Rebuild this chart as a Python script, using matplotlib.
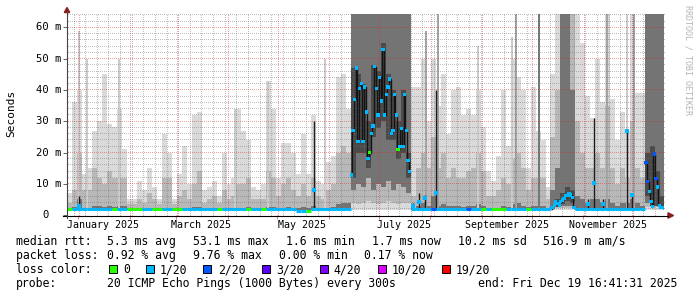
import numpy as np
import pandas as pd
import matplotlib
matplotlib.use("Agg")
import matplotlib.pyplot as plt
import matplotlib.dates as mdates
import matplotlib.ticker as mticker
import matplotlib.transforms as mtrans
from matplotlib.lines import Line2D
from matplotlib.patches import Rectangle, Polygon

# ---------------------------------------------------------------- data
axis_start = "2024-12-25 09:00"
axis_end = "2025-12-19 16:41:31"
bin_days = 3          # smoke is summarised in 3-day bins
min_rtt = 1.6         # ms, lowest ping (bottom of the smoke)

# smoke envelope per 3-day bin (ms): max ping, ~90th, ~75th percentile
smoke_max = [7, 36, 40, 13, 15, 27, 30, 45, 29, 28,
             34, 21, 5, 5, 11, 8, 15, 9, 5, 26,
             20, 5, 13, 22, 10, 32, 33, 8, 9, 11,
             6, 20, 10, 12, 34, 27, 24, 9, 8, 10,
             43, 34, 12, 23, 23, 20, 13, 26, 13, 32,
             11, 10, 17, 19, 44, 45, 34, 70, 70, 70,
             70, 70, 70, 70, 70, 70, 70, 70, 70, 41,
             41, 50, 30, 50, 35, 45, 26, 40, 41, 32,
             34, 32, 40, 28, 14, 11, 19, 40, 22, 50,
             44, 40, 15, 41, 27, 24, 9, 45, 70, 70,
             70, 70, 70, 55, 38, 31, 50, 36, 70, 37,
             24, 33, 27, 70, 39, 39, 70, 70, 70, 70]
smoke_p90 = [4, 8, 20, 8, 8, 15, 12, 10, 14, 12,
             12, 12, 3.5, 3.5, 5, 4, 7, 5, 3.5, 12,
             12, 3.5, 6, 8, 5, 10, 14, 4, 5, 6,
             4, 8, 5, 6, 10, 10, 12, 5, 5, 5,
             14, 12, 6, 10, 12, 8, 6, 10, 6, 12,
             6, 5, 8, 10, 20, 22, 20, 70, 70, 70,
             70, 70, 70, 70, 70, 70, 70, 70, 70, 6,
             15, 20, 15, 25, 15, 20, 12, 15, 12, 12,
             14, 15, 20, 14, 6, 6, 8, 12, 10, 18,
             20, 15, 8, 12, 12, 12, 5, 25, 40, 70,
             70, 70, 30, 20, 15, 15, 20, 15, 35, 15,
             10, 15, 12, 30, 15, 12, 70, 70, 70, 70]
smoke_p75 = [2.3, 2.6, 5, 2.4, 2.4, 3, 3, 2.6, 3, 2.6,
             3, 3, 2.2, 2.2, 2.3, 2.2, 2.3, 2.2, 2.2, 2.4,
             2.4, 2.2, 2.3, 2.4, 2.3, 2.6, 2.6, 2.2, 2.3, 2.3,
             2.2, 2.4, 2.3, 2.3, 2.4, 2.4, 2.6, 2.3, 2.3, 2.3,
             2.6, 2.6, 2.3, 2.4, 2.6, 2.4, 2.3, 2.6, 2.3, 3,
             2.3, 2.3, 2.4, 2.6, 3.5, 4, 4, 70, 70, 70,
             70, 70, 70, 70, 70, 70, 70, 70, 70, 2.4,
             3, 4, 3, 6, 3, 3.5, 3, 3, 3, 2.6,
             3, 3, 3.5, 3, 2.4, 2.4, 2.4, 3, 2.6, 3.5,
             4, 3, 2.6, 3, 3, 3, 2.4, 8, 15, 70,
             70, 40, 6, 5, 4, 5, 5, 4, 5, 4,
             3, 4, 4, 5, 4, 3, 70, 70, 70, 70]
# lower edges of the two inner smoke bands (ms)
smoke_lo10 = [1.6, 1.6, 1.6, 1.6, 1.6, 1.6, 1.6, 1.6, 1.6, 1.6,
              1.6, 1.6, 1.6, 1.6, 1.6, 1.6, 1.6, 1.6, 1.6, 1.6,
              1.6, 1.6, 1.6, 1.6, 1.6, 1.6, 1.6, 1.6, 1.6, 1.6,
              1.6, 1.6, 1.6, 1.6, 1.6, 1.6, 1.6, 1.6, 1.6, 1.6,
              1.6, 1.6, 1.6, 1.6, 1.6, 1.6, 1.6, 1.6, 1.6, 1.6,
              1.6, 1.6, 1.6, 1.6, 1.6, 1.6, 1.6, 4, 3.5, 4,
              4.5, 4, 3.5, 4, 4.5, 4, 3.5, 4, 4, 1.6,
              1.6, 1.6, 1.6, 1.6, 1.6, 1.6, 1.6, 1.6, 1.6, 1.6,
              1.6, 1.6, 1.6, 1.6, 1.6, 1.6, 1.6, 1.6, 1.6, 1.6,
              1.6, 1.6, 1.6, 1.6, 1.6, 1.6, 1.6, 1.6, 2.2, 2.2,
              2.2, 2.2, 1.6, 1.6, 1.6, 1.6, 1.6, 1.6, 1.6, 1.6,
              1.6, 1.6, 1.6, 1.6, 1.6, 1.6, 2.5, 2.5, 2.5, 2.5]
smoke_lo25 = [1.7, 1.7, 1.7, 1.7, 1.7, 1.7, 1.7, 1.7, 1.7, 1.7,
              1.7, 1.7, 1.7, 1.7, 1.7, 1.7, 1.7, 1.7, 1.7, 1.7,
              1.7, 1.7, 1.7, 1.7, 1.7, 1.7, 1.7, 1.7, 1.7, 1.7,
              1.7, 1.7, 1.7, 1.7, 1.7, 1.7, 1.7, 1.7, 1.7, 1.7,
              1.7, 1.7, 1.7, 1.7, 1.7, 1.7, 1.7, 1.7, 1.7, 1.7,
              1.7, 1.7, 1.7, 1.7, 1.7, 1.7, 1.7, 8, 10, 9,
              12, 8, 10, 9, 11, 8, 10, 9, 7, 1.7,
              1.7, 1.7, 1.7, 1.7, 1.7, 1.7, 1.7, 1.7, 1.7, 1.7,
              1.7, 1.7, 1.7, 1.7, 1.7, 1.7, 1.7, 1.7, 1.7, 1.7,
              1.7, 1.7, 1.7, 1.7, 1.7, 1.7, 1.7, 2.0, 3, 3,
              3, 3, 1.7, 1.7, 1.7, 1.7, 1.7, 1.7, 1.7, 1.7,
              1.7, 1.7, 1.7, 1.7, 1.7, 1.7, 4, 4, 4, 4]

nan = float("nan")
# densest smoke core (ms) in the congested bins
core_bins = [57, 58, 59, 60, 61, 62, 63, 64, 65, 66, 67, 68,
             98, 99, 100, 101, 116, 117, 118, 119]
core_lo = [12, 20, 20, 15, 25, 28, 30, 24, 24, 18, 20, 12,
           2.5, 3.5, 4.5, 4, 6, 3, 3, 2]
core_hi = [47, 45, 42, 30, 48, 46, 55, 45, 40, 30, 40, 20,
           5, 7, 9, 8, 20, 22, 14, 6]

# median rtt per 3-day bin (ms) where it stays near the floor
median_base = [1.8, 1.8, 1.8, 1.8, 1.8, 1.8, 1.8, 1.8, 1.8, 1.8,
               1.8, 1.8, 1.8, 1.8, 1.8, 1.8, 1.8, 1.8, 1.8, 1.8,
               1.8, 1.8, 1.8, 1.8, 1.8, 1.8, 1.8, 1.8, 1.8, 1.8,
               1.8, 1.8, 1.8, 1.8, 1.8, 1.8, 1.8, 1.8, 1.8, 1.8,
               1.8, 1.8, 1.8, 1.8, 1.8, 1.8, 1.2, 1.2, 1.2, 1.8,
               1.8, 1.8, 1.8, 1.8, 1.8, 1.8, 1.8, nan, nan, nan,
               nan, nan, nan, nan, nan, nan, nan, nan, nan, 1.8,
               1.8, 1.8, 1.8, 1.8, 1.8, 1.8, 1.8, 1.8, 1.8, 1.8,
               1.8, 1.8, 1.8, 1.8, 1.8, 1.8, 1.8, 1.8, 1.8, 1.8,
               1.8, 1.8, 1.8, 1.8, 1.8, 1.8, 1.8, nan, nan, nan,
               nan, nan, 1.8, 1.8, 1.8, 1.8, 1.8, 1.8, 1.8, 1.8,
               1.8, 1.8, 1.8, 1.8, 1.8, 1.8, nan, nan, nan, nan]
# loss bucket per bin: 0 = 0, 1 = 1/20, 2 = 2/20 ...
median_base_loss = [0, 1, 1, 1, 1, 1, 1, 1, 1, 0,
                    1, 1, 0, 0, 0, 1, 1, 0, 0, 1,
                    1, 0, 0, 1, 1, 1, 1, 1, 1, 1,
                    0, 1, 1, 1, 1, 1, 0, 1, 1, 0,
                    1, 1, 1, 1, 1, 1, 1, 1, 0, 1,
                    1, 1, 1, 1, 1, 1, 1, 1, 1, 1,
                    1, 1, 1, 1, 1, 1, 1, 1, 1, 1,
                    1, 1, 1, 2, 1, 1, 1, 1, 1, 1,
                    2, 1, 1, 0, 1, 0, 0, 0, 1, 1,
                    1, 1, 0, 1, 1, 1, 1, 1, 1, 1,
                    1, 1, 1, 1, 1, 1, 1, 1, 1, 1,
                    1, 1, 1, 1, 1, 1, 1, 1, 1, 1]

# daily medians in the congested periods (ms) and their loss bucket
june_start = "2025-06-14 02:00"
june_median = [12.8, 27, 37, 47, 23.5, 40.5, 42, 23.5, 41, 33,
               18, 20, 26, 28.5, 47.5, 40.5, 32, 44, 36.5, 53,
               32, 38.6, 41, 43.5, 26, 27, 38.6, 32, 21, 22,
               27.7, 22, 38.6, 27, 17.4, 13.9]
june_loss = [1, 1, 1, 1, 1, 1, 1, 1, 1, 1,
             1, 0, 1, 1, 1, 1, 1, 1, 1, 1,
             1, 1, 1, 1, 1, 1, 1, 1, 0, 1,
             1, 1, 1, 1, 1, 1]
oct_start = "2025-10-12 02:00"
oct_median = [2.0, 2.5, 3.2, 4.3, 3.7, 3.2, 4.3, 4.8, 5.3, 6.2, 6.2, 6.9, 6.4, 5.5, 2.5]
oct_loss = [1, 1, 1, 1, 1, 1, 1, 1, 1, 1, 1, 1, 1, 1, 1]
dec_start = "2025-12-08 09:00"
dec_median = [16.7, 10.7, 7.5, 4.3, 2.7, 19.5, 11.7, 9.0, 3.0, 2.5, 2.5, 2.2]
dec_loss = [2, 2, 1, 1, 1, 2, 2, 1, 1, 1, 1, 1]

# isolated raised medians: date, median (ms), dense-smoke top (ms)
dot_dates = ["2025-01-01 12:00", "2025-05-22 23:00", "2025-07-21 14:00",
             "2025-07-25 04:00", "2025-07-29 02:00", "2025-08-04 11:00",
             "2025-11-03 21:00", "2025-11-07 12:00", "2025-11-12 23:00",
             "2025-11-27 09:00", "2025-11-30 14:00"]
dot_median = [3.0, 8.0, 3.0, 4.3, 5.3, 6.9, 3.4, 10.3, 3.6, 26.8, 6.4]
dot_core = [6, 30, 4, 7, 6.4, 40, 5, 31, 5, 27, 6.4]

# single tall ping outliers: date, top (ms), density level (0 light .. 2 dense)
spike_dates = ["2025-01-01 14:00", "2025-01-06 12:00", "2025-01-25 12:00",
               "2025-04-05 12:00", "2025-04-25 12:00", "2025-05-29 12:00",
               "2025-07-29 12:00", "2025-08-05 12:00", "2025-08-29 12:00",
               "2025-09-19 12:00", "2025-09-21 12:00", "2025-10-05 12:00",
               "2025-11-15 12:00", "2025-11-27 12:00", "2025-12-01 12:00"]
spike_top = [59, 50, 50, 34, 43, 50, 59, 70, 54, 57, 70, 70, 70, 70, 70]
spike_level = [0, 0, 0, 0, 0, 0, 1, 1, 0, 0, 1, 2, 1, 0, 1]

loss_labels = ["0", "1/20", "2/20", "3/20", "4/20", "10/20", "19/20"]
loss_colors = ["#26ff00", "#00b8ff", "#0059ff", "#5e00ff", "#7e00ff", "#dd00ff", "#ff0000"]

month_labels = ["January 2025", "March 2025", "May 2025", "July 2025",
                "September 2025", "November 2025"]
month_numbers = [1, 3, 5, 7, 9, 11]
ytick_values = [0, 10, 20, 30, 40, 50, 60]
ytick_labels = ["0", "10 m", "20 m", "30 m", "40 m", "50 m", "60 m"]

stats_rtt = ["median rtt:", "5.3 ms avg", "53.1 ms max", "1.6 ms min",
             "1.7 ms now", "10.2 ms sd", "516.9 m am/s"]
stats_loss = ["packet loss:", "0.92 % avg", "9.76 % max", "0.00 % min", "0.17 % now"]
probe_text = ["probe:", "20 ICMP Echo Pings (1000 Bytes) every 300s",
              "end: Fri Dec 19 16:41:31 2025"]

# ---------------------------------------------------------------- figure
W, H = 697, 297
MONO = "DejaVu Sans Mono"


def fx(px):
    return px / W


def fy(py):
    return 1 - py / H


def to_num(strings):
    return mdates.date2num(pd.to_datetime(strings, format="mixed"))


fig = plt.figure(figsize=(W / 100, H / 100), dpi=100, facecolor="white")
ax = fig.add_axes([fx(67), fy(215), (664 - 67) / W, (215 - 14) / H])
ax.set_facecolor("white")
t0 = mdates.date2num(pd.Timestamp(axis_start))
t1 = mdates.date2num(pd.Timestamp(axis_end))
ax.set_xlim(t0, t1)
ax.set_ylim(0, 64.32)

n = len(smoke_max)
x0 = t0 + np.arange(n) * bin_days
smax = np.array(smoke_max, float)
p90 = np.array(smoke_p90, float)
p75 = np.array(smoke_p75, float)
lo10 = np.array(smoke_lo10, float)
lo25 = np.array(smoke_lo25, float)

ax.bar(x0, smax - min_rtt, bottom=min_rtt, width=bin_days, align="edge",
       color="#dadada", linewidth=0, antialiased=False, zorder=1.0)
ax.bar(x0, p90 - lo10, bottom=lo10, width=bin_days, align="edge",
       color="#b8b8b8", linewidth=0, antialiased=False, zorder=1.1)
ax.bar(x0, p75 - lo25, bottom=lo25, width=bin_days, align="edge",
       color="#747474", linewidth=0, antialiased=False, zorder=1.2)
cb = np.array(core_bins)
ax.bar(x0[cb], np.array(core_hi) - np.array(core_lo), bottom=core_lo,
       width=bin_days, align="edge", color="#4a4a4a", linewidth=0,
       antialiased=False, zorder=1.25)

spike_cols = ["#cbcbcb", "#a4a4a4", "#777777"]
sx = to_num(spike_dates)
stop = np.array(spike_top, float)
ax.bar(sx, stop - min_rtt, bottom=min_rtt, width=1.2, align="center",
       color=[spike_cols[l] for l in spike_level], linewidth=0,
       antialiased=False, zorder=1.3)

# tick positions (also used for the dotted grid)
ax.xaxis.set_major_locator(mdates.MonthLocator())
ax.xaxis.set_minor_locator(mdates.WeekdayLocator(byweekday=mdates.SU))
ax.yaxis.set_major_locator(mticker.MultipleLocator(10))
ax.yaxis.set_minor_locator(mticker.MultipleLocator(2))
ax.tick_params(labelbottom=False, labelleft=False)
ax.tick_params(axis="x", which="major", length=3, width=0.7, color="#e08080")
ax.tick_params(axis="x", which="minor", length=0)
ax.tick_params(axis="y", which="major", length=3, width=0.7, color="#606060")
ax.tick_params(axis="y", which="minor", length=0)
for s in ax.spines.values():
    s.set_visible(False)

# rrdtool style 1px-on / 1px-off dotted grid, drawn as single pixels
ident = mtrans.IdentityTransform()
ax_bb = ax.get_window_extent()
px_left, px_right = ax_bb.x0, ax_bb.x1
px_bot, px_top = ax_bb.y0, ax_bb.y1


def dotted_grid(xvals, yvals, color):
    pts_x, pts_y = [], []
    for yv in yvals:
        yd = np.floor(ax.transData.transform((t0, yv))[1]) + 0.5
        xs = np.arange(np.floor(px_left) + 0.5, px_right, 2.0)
        pts_x.append(xs)
        pts_y.append(np.full_like(xs, yd))
    for xv in xvals:
        xd = np.floor(ax.transData.transform((xv, 0))[0]) + 0.5
        ys = np.arange(np.floor(px_bot) + 0.5, px_top, 2.0)
        pts_x.append(np.full_like(ys, xd))
        pts_y.append(ys)
    if pts_x:
        ax.plot(np.concatenate(pts_x), np.concatenate(pts_y), ",", color=color,
                transform=ident, zorder=2.5, clip_on=True)


ymaj = [v for v in ax.yaxis.get_majorticklocs() if 0 < v <= 64.32]
ymin = [v for v in ax.yaxis.get_minorticklocs() if 0 < v <= 64.32 and v % 10 != 0]
xmaj = [v for v in ax.xaxis.get_majorticklocs() if t0 < v < t1]
xmin = [v for v in ax.xaxis.get_minorticklocs()
        if t0 < v < t1 and min(abs(v - m) for m in xmaj) > 0.3]
dotted_grid(xmin, ymin, (0.45, 0.45, 0.45, 0.45))
dotted_grid(xmaj, ymaj, (0.88, 0.12, 0.12, 0.42))

# median: floor segments
mb = np.array(median_base, float)
ok = ~np.isnan(mb)
cols = np.array([loss_colors[i] for i in median_base_loss])
ax.hlines(mb[ok], x0[ok], x0[ok] + bin_days, colors=cols[ok], lw=2.2, zorder=5)


def daily_block(start, vals, losses):
    xs = mdates.date2num(pd.Timestamp(start)) + np.arange(len(vals))
    v = np.array(vals, float)
    ax.step(np.r_[xs, xs[-1] + 1], np.r_[v, v[-1]], where="post",
            color="#141414", lw=1.0, zorder=4)
    ax.scatter(xs + 0.5, v, marker="s", s=5.5, linewidths=0,
               c=[loss_colors[l] for l in losses], zorder=6)


daily_block(june_start, june_median, june_loss)
daily_block(oct_start, oct_median, oct_loss)
daily_block(dec_start, dec_median, dec_loss)

dx = to_num(dot_dates)
ax.vlines(dx, min_rtt, dot_core, color="#1c1c1c", lw=1.0, zorder=4)
ax.scatter(dx, dot_median, marker="s", s=5.5, linewidths=0, c=loss_colors[1], zorder=6)

# axes lines and arrows
fig.add_artist(Line2D([fx(63), fx(668)], [fy(215.5), fy(215.5)], color="black", lw=0.8))
fig.add_artist(Line2D([fx(67), fx(67)], [fy(218), fy(12)], color="#444444", lw=0.8))
fig.add_artist(Polygon([(fx(64.3), fy(12.5)), (fx(69.7), fy(12.5)), (fx(67), fy(7.5))],
                       closed=True, color="#8a1f1f", transform=fig.transFigure))
fig.add_artist(Polygon([(fx(668), fy(212.8)), (fx(668), fy(218.2)), (fx(673.5), fy(215.5))],
                       closed=True, color="#8a1f1f", transform=fig.transFigure))

# axis labels
tr_x = mtrans.blended_transform_factory(ax.transData, fig.transFigure)
for m, lab in zip(month_numbers, month_labels):
    ax.text(mdates.date2num(pd.Timestamp(2025, m, 16)), fy(227.7), lab,
            transform=tr_x, ha="center", va="baseline", fontsize=7.2, family=MONO)
tr_y = mtrans.blended_transform_factory(fig.transFigure, ax.transData)
for v, lab in zip(ytick_values, ytick_labels):
    xr = 61.5 if lab != "0" else 49.0
    fig.text(fx(xr), v, lab, transform=tr_y, ha="right", va="center",
             fontsize=7.6, family=MONO)

fig.text(fx(11), fy(113), "Seconds", rotation=90, ha="center", va="center",
         fontsize=8, family=MONO)
fig.text(fx(688), fy(60), "RRDTOOL / TOBI OETIKER", rotation=270, ha="center",
         va="center", fontsize=6, family=MONO, color="#b4b4b4")

# legend
FS = 8.3
rtt_x = [16.7, 107.3, 193.3, 286.7, 372.3, 458.3, 544]
for s, x in zip(stats_rtt, rtt_x):
    fig.text(fx(x - 0.6), fy(245), s, fontsize=FS, family=MONO, va="baseline")
loss_x = [16.7, 107.3, 193.3, 279.3, 365]
for s, x in zip(stats_loss, loss_x):
    fig.text(fx(x - 0.6), fy(259), s, fontsize=FS, family=MONO, va="baseline")
fig.text(fx(16.1), fy(273.3), "loss color:", fontsize=FS, family=MONO, va="baseline")
box_x = [108.7, 146, 203.3, 261.7, 320, 377.7, 442.3]
lab_x = [124, 160.7, 218.3, 276.7, 334.3, 392.3, 456.7]
for c, lab, bx, lx in zip(loss_colors, loss_labels, box_x, lab_x):
    fig.add_artist(Rectangle((fx(bx), fy(273.3)), 8 / W, 8 / H, facecolor=c,
                             edgecolor="black", lw=0.7, transform=fig.transFigure))
    fig.text(fx(lx - 0.6), fy(273.3), lab, fontsize=FS, family=MONO, va="baseline")
probe_x = [16.7, 107.3, 478.3]
for s, x in zip(probe_text, probe_x):
    fig.text(fx(x - 0.6), fy(287.3), s, fontsize=FS, family=MONO, va="baseline")

fig.savefig("out.png", dpi=100, facecolor="white")
